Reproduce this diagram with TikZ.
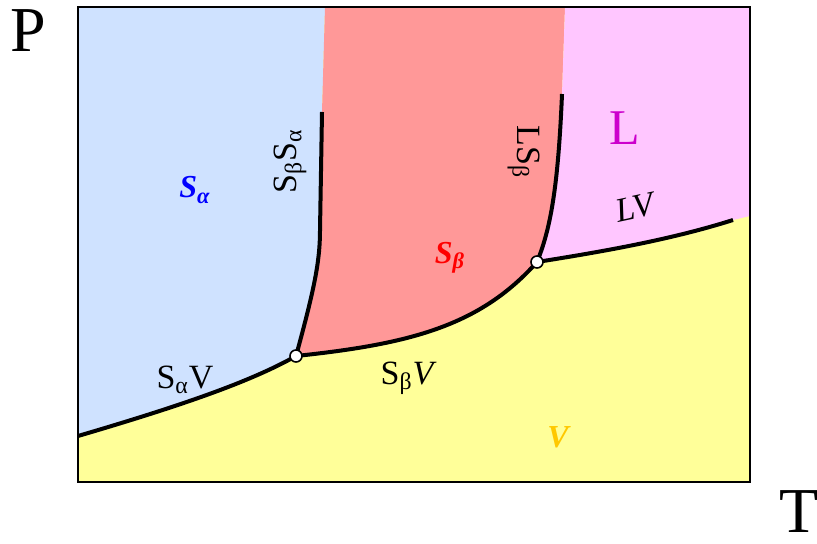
\documentclass[tikz,border=0pt]{standalone}
\usepackage{fontspec}
\setmainfont{Liberation Serif}
\usetikzlibrary{
  calc,
  positioning
}
\definecolor{alphablue}{RGB}{207,226,255}
\definecolor{betared}{RGB}{255,152,152}
\definecolor{liqpink}{RGB}{255,198,255}
\definecolor{vapyellow}{RGB}{255,255,153}
\definecolor{vaplabel}{RGB}{255,200,0}
\definecolor{liqlabel}{RGB}{204,0,204}

\begin{document}
\begin{tikzpicture}[x=0.5pt,y=-0.5pt]
  \tikzset{
    phaseline/.style={line width=2pt},
    triple/.style={circle,draw,fill=white,line width=0.8pt,inner sep=0pt,minimum size=6pt},
    axislabel/.style={inner sep=0pt,font=\fontsize{32}{36}\selectfont},
    linelabel/.style={inner sep=0pt,font=\fontsize{17}{20}\selectfont},
    phaselabel/.style={inner sep=0pt,font=\fontsize{16}{19}\selectfont\bfseries\itshape},
  }
  \useasboundingbox (0,0) rectangle (817,544);

  \coordinate (tl) at (78,7);
  \coordinate (tr) at (750,7);
  \coordinate (br) at (750,482);
  \coordinate (bl) at (78,482);
  \coordinate (ta) at (296,356);
  \coordinate (tb) at (537,262);
  \coordinate (sa) at (78,436);
  \coordinate (abtop) at (322,112);
  \coordinate (abedge) at (325,7);
  \coordinate (lbtop) at (562,94);
  \coordinate (lbedge) at (565,7);
  \coordinate (lvend) at (733,220);
  \coordinate (lvedge) at (750,216);

  \fill[vapyellow] (tl) rectangle (br);
  \fill[alphablue] (tl) -- (abedge) -- (abtop) -- (320,230)
    .. controls (320,262) and (314,290) .. (ta)
    .. controls (250,382) and (180,406) .. (sa) -- cycle;
  \fill[betared] (abedge) -- (lbedge) -- (lbtop)
    .. controls (558,190) and (550,230) .. (tb)
    .. controls (480,326) and (410,344) .. (ta)
    .. controls (314,290) and (320,262) .. (320,230) -- (abtop) -- cycle;
  \fill[liqpink] (lbedge) -- (tr) -- (lvedge) -- (lvend)
    .. controls (670,240) and (600,252) .. (tb)
    .. controls (550,230) and (558,190) .. (lbtop) -- cycle;

  \draw[line width=1pt] (tl) rectangle (br);

  \draw[phaseline] (sa) .. controls (180,406) and (250,382) .. (ta);
  \draw[phaseline] (ta) .. controls (410,344) and (480,326) .. (tb);
  \draw[phaseline] (tb) .. controls (600,252) and (670,240) .. (lvend);
  \draw[phaseline] (ta) .. controls (314,290) and (320,262) .. (320,230) -- (abtop);
  \draw[phaseline] (tb) .. controls (550,230) and (558,190) .. (lbtop);

  \node[triple] (pa) at (ta) {};
  \node[triple] (pb) at (tb) {};

  \node[axislabel] (plabel) at (28,31) {P};
  \node[axislabel] (tlabel) at (799,512) {T};

  \node[phaselabel,text=blue] (salabel) at (195,190) {S\textsubscript{α}};
  \node[phaselabel,text=red] (sblabel) at (450,258) {S\textsubscript{β}};
  \node[inner sep=0pt,font=\fontsize{25}{28}\selectfont,text=liqlabel] (llabel) at (625,128) {L};
  \node[phaselabel,text=vaplabel] (vlabel) at (558,437) {V};

  \node[linelabel] (savlabel) at (185,380) {S\textsubscript{α}V};
  \node[linelabel] (sbvlabel) at (407,378) {S\textsubscript{β}{\itshape V}};
  \node[linelabel,rotate=12] (lvlabel) at (635,208) {{\itshape LV}};
  \node[linelabel,rotate=90] (sbsalabel) at (290,161) {S\textsubscript{β}S\textsubscript{α}};
  \node[linelabel,rotate=-90] (lsblabel) at (524,152) {LS\textsubscript{β}};
\end{tikzpicture}
\end{document}
